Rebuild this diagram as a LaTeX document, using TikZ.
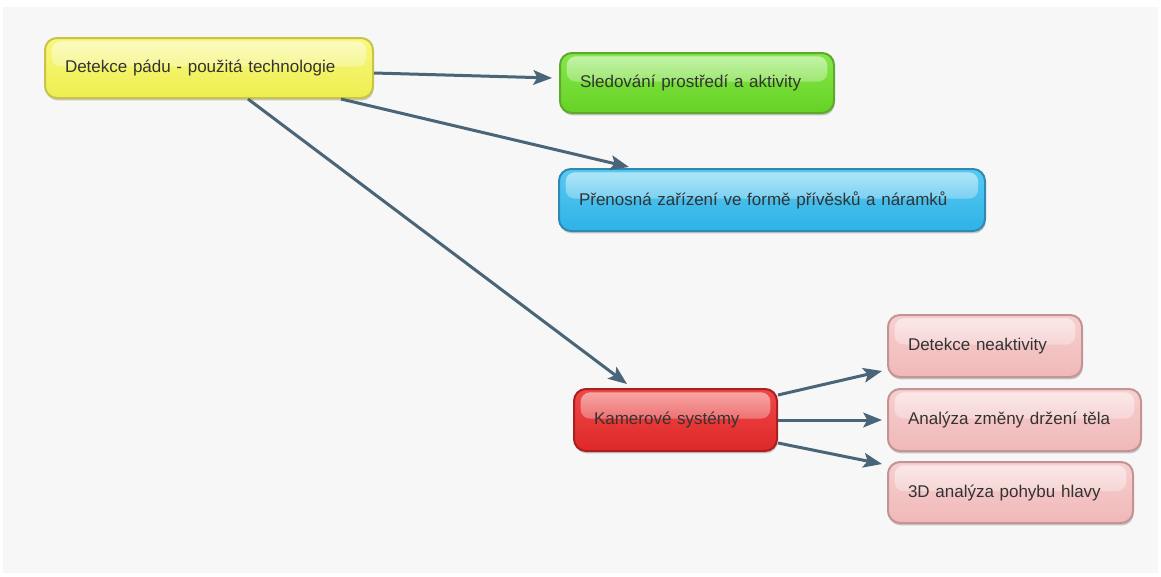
\documentclass[tikz,border=0pt]{standalone}
\usepackage{fontspec}
\setmainfont{Liberation Sans}
\usetikzlibrary{arrows.meta,shadows,fadings}
\definecolor{bg}{HTML}{F7F7F7}
\definecolor{txt}{HTML}{333333}
\definecolor{arr}{HTML}{4A6478}
\definecolor{ytop}{HTML}{F8F87E}\definecolor{ybot}{HTML}{EEEE50}\definecolor{ybrd}{HTML}{C8C44A}
\definecolor{gtop}{HTML}{86E84A}\definecolor{gbot}{HTML}{66D224}\definecolor{gbrd}{HTML}{5EA82C}
\definecolor{btop}{HTML}{5ACAF2}\definecolor{bbot}{HTML}{2EB2E6}\definecolor{bbrd}{HTML}{2E8AB2}
\definecolor{rtop}{HTML}{F04848}\definecolor{rbot}{HTML}{DE2828}\definecolor{rbrd}{HTML}{A82020}
\definecolor{ptop}{HTML}{F7D0D0}\definecolor{pbot}{HTML}{F0B8B8}\definecolor{pbrd}{HTML}{C49494}
\tikzset{
  box/.style={rectangle, rounded corners=9pt, line width=1.5pt, align=left,
    inner xsep=15pt, inner ysep=0pt, text=txt, font=\fontsize{12.75pt}{15pt}\selectfont,
    drop shadow={shadow xshift=0.6pt, shadow yshift=-1.8pt, opacity=0.2, fill=black},
    path picture={\fill[white,opacity=0.55,rounded corners=7pt,path fading=south]
      ([xshift=5pt,yshift=-2.5pt]path picture bounding box.north west) rectangle
      ([xshift=-5pt,yshift=1pt]path picture bounding box.east);}},
  ybox/.style={box, draw=ybrd, top color=ytop, bottom color=ybot},
  gbox/.style={box, draw=gbrd, top color=gtop, bottom color=gbot},
  bbox/.style={box, draw=bbrd, top color=btop, bottom color=bbot},
  rbox/.style={box, draw=rbrd, top color=rtop, bottom color=rbot},
  pbox/.style={box, draw=pbrd, top color=ptop, bottom color=pbot},
  link/.style={draw=arr, line width=2.25pt,
    -{Stealth[length=14pt, width=11pt, inset=3pt]}}
}
\begin{document}
\begin{tikzpicture}[x=0.75pt, y=-0.75pt]
\useasboundingbox (0,0) rectangle (1161,576);
\fill[bg] (3,7) rectangle (1158,573);

\node[ybox, text width=216pt, minimum height=45pt] (Y) at (209,68) {Detekce pádu - použitá technologie};
\node[gbox, text width=175.5pt, minimum height=45pt] (G) at (697,83) {Sledování prostředí a aktivity};
\node[bbox, text width=289.5pt, minimum height=46.5pt] (B) at (772,200) {Přenosná zařízení ve formě přívěsků a náramků};
\node[rbox, text width=122.25pt, minimum height=46.5pt] (R) at (675.5,420) {Kamerové systémy};
\node[pbox, text width=115.5pt, minimum height=46.5pt] (P1) at (985,346) {Detekce neaktivity};
\node[pbox, text width=159.75pt, minimum height=46.5pt] (P2) at (1014.5,420) {Analýza změny držení těla};
\node[pbox, text width=153.75pt, minimum height=45.75pt] (P3) at (1010.5,492.5) {3D analýza pohybu hlavy};

\draw[link] ([yshift=-3.75pt]Y.east) -- ([xshift=-5.25pt,yshift=3.75pt]G.west);
\draw[link] ([xshift=-24.75pt]Y.south east) -- ([xshift=53.25pt,yshift=0.75pt]B.north west);
\draw[link] ([xshift=29.25pt]Y.south) -- ([xshift=40.5pt,yshift=3pt]R.north west);
\draw[link] ([yshift=-5.25pt]R.north east) -- ([xshift=-3.75pt,yshift=5.25pt]P1.south west);
\draw[link] (R.east) -- ([xshift=-3.75pt]P2.west);
\draw[link] ([yshift=6.75pt]R.south east) -- ([xshift=-3.75pt,yshift=-2.25pt]P3.north west);
\end{tikzpicture}
\end{document}
